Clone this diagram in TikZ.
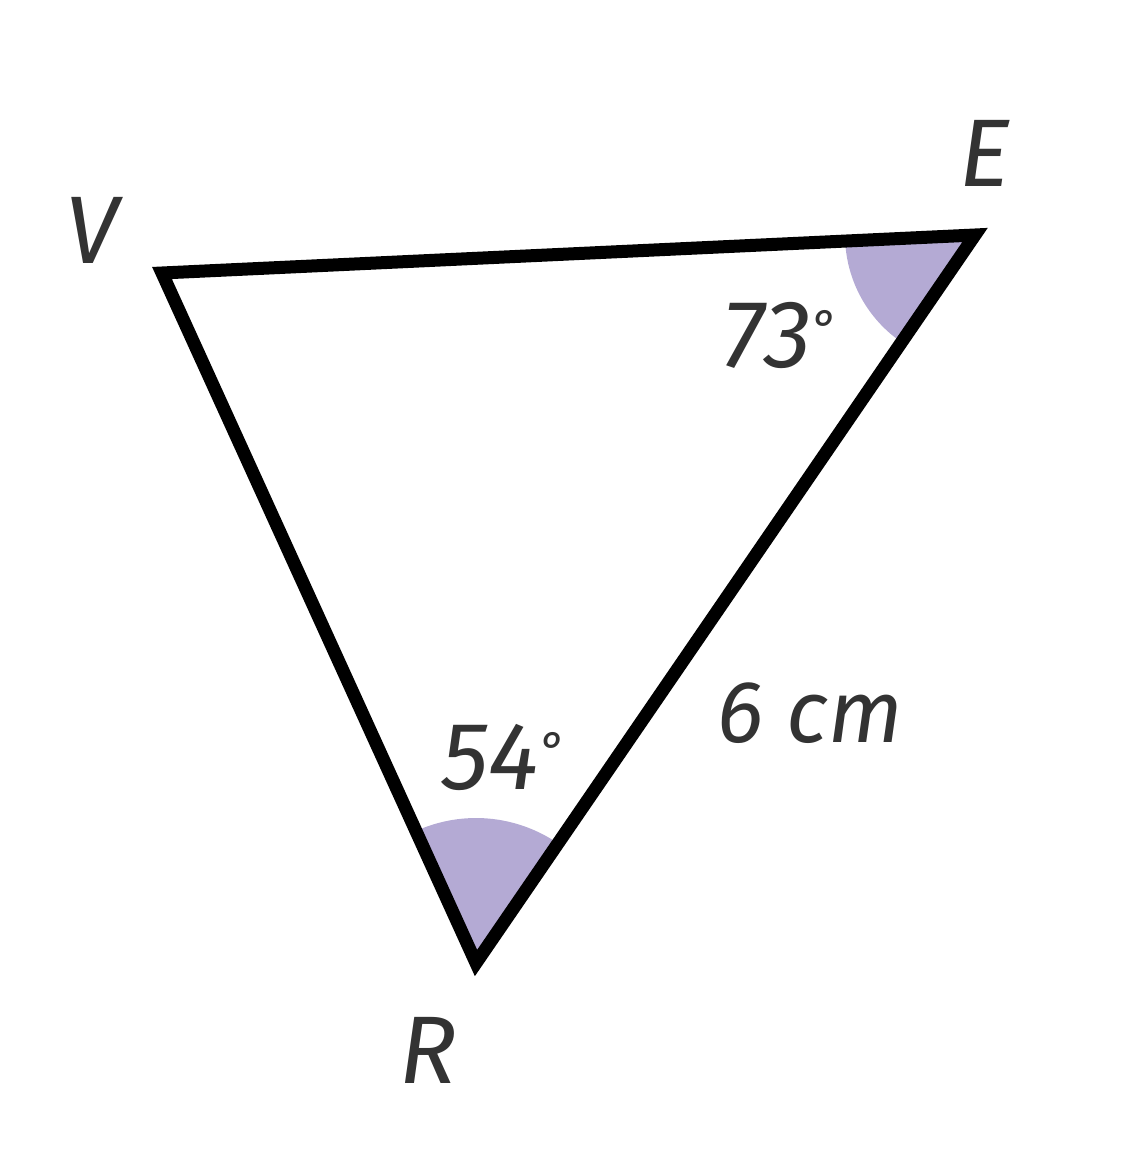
\documentclass[tikz,border=0pt]{standalone}
\usepackage{fontspec}
\setmainfont{Fira Sans}
\definecolor{lav}{HTML}{B4AAD4}
\newcommand{\smalldeg}{\raisebox{0.22em}{\fontsize{50}{50}\selectfont °}}
\begin{document}
\begin{tikzpicture}[x=1pt,y=-1pt,
  lbl/.style={text=black!80, font=\fontsize{96}{96}\selectfont\itshape, inner sep=0pt},
  ang/.style={fill=lav, draw=none},
  edge/.style={line width=13pt, line join=miter, line cap=round, draw=black}]
\useasboundingbox (0,0) rectangle (1120,1174);
\coordinate (V) at (162,273);
\coordinate (E) at (975,235);
\coordinate (R) at (476,963);
% angle sectors
\fill[ang] (E) -- ++(124.6:130) arc[start angle=124.6, end angle=177.3, radius=130] -- cycle;
\fill[ang] (R) -- ++(-114.5:145) arc[start angle=-114.5, end angle=-55.6, radius=145] -- cycle;
% triangle
\draw[edge] (V) -- (E) -- (R) -- cycle;
% labels
\node[lbl] (lV) at (92,230) {V};
\node[lbl] (lE) at (985,153) {E};
\node[lbl] (lR) at (428,1050) {R};
\node[lbl] (a73) at (780,335) {73\smalldeg};
\node[lbl] (a54) at (503,757) {54\smalldeg};
\node[lbl, font=\fontsize{88}{88}\selectfont\itshape] (len) at (810,713) {6 cm};
\end{tikzpicture}
\end{document}
